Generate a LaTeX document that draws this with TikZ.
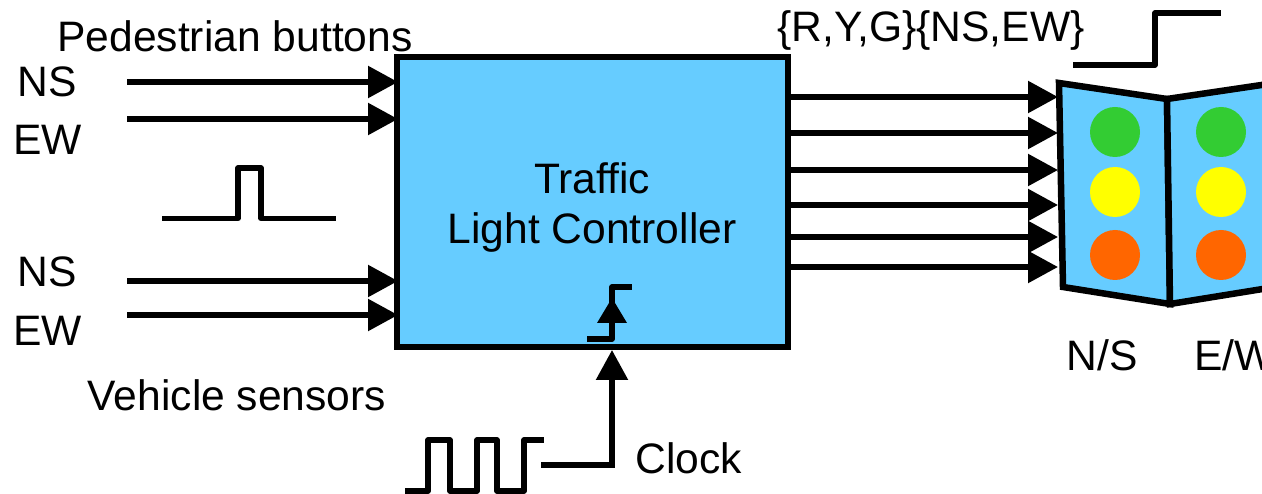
\documentclass[tikz,border=0pt]{standalone}
\usepackage{fontspec}
\setmainfont{Liberation Sans}
\usetikzlibrary{arrows.meta}
\definecolor{panelblue}{HTML}{66CCFF}
\definecolor{lampgreen}{HTML}{33CC33}
\definecolor{lampyellow}{RGB}{255,255,0}
\definecolor{lamporange}{HTML}{FF6600}
\tikzset{
    wire/.style={line width=5.5pt, -{Triangle[length=30pt,width=31pt]}, shorten >=-1pt},
    wave/.style={line width=5.5pt, line join=round},
    panel/.style={draw, line width=6.5pt, fill=panelblue, line join=miter},
    lamp/.style={circle, inner sep=0pt, minimum size=50pt},
    label/.style={font=\fontsize{42.6}{44}\selectfont, inner sep=0pt}
}

\begin{document}
\begin{tikzpicture}[x=1pt, y=-1pt]
    \clip (0,0) rectangle (1262,494);

    % Controller
    \node[draw, rectangle, line width=6pt, fill=panelblue, minimum width=391pt, minimum height=290pt, inner sep=0pt, outer sep=0pt, anchor=north west] (ctrl) at (397,57) {};
    \node[label] (traffic) at (592,178) {Traffic};
    \node[label] (lightctrl) at (592,232) {Light Controller};

    % Signal lamps
    \draw[panel] (1167,99) -- (1059,83) -- (1063,287) -- (1170,304) -- cycle;
    \draw[panel] (1167,99) -- (1275,83) -- (1275,287) -- (1170,304) -- cycle;
    \node[lamp, fill=lampgreen] (greenNS) at (1115,132) {};
    \node[lamp, fill=lampyellow] (yellowNS) at (1115,192) {};
    \node[lamp, fill=lamporange] (redNS) at (1115,255) {};
    \node[lamp, fill=lampgreen] (greenEW) at (1221,132) {};
    \node[lamp, fill=lampyellow] (yellowEW) at (1221,192) {};
    \node[lamp, fill=lamporange] (redEW) at (1221,255) {};

    % Free ends
    \coordinate (pedNS) at (127,82);
    \coordinate (pedEW) at (127,119);
    \coordinate (vehNS) at (127,281);
    \coordinate (vehEW) at (127,315);
    \coordinate (clkin) at (541,465);

    % Inputs
    \draw[wire] (pedNS) -- (pedNS -| ctrl.west);
    \draw[wire] (pedEW) -- (pedEW -| ctrl.west);
    \draw[wire] (vehNS) -- (vehNS -| ctrl.west);
    \draw[wire] (vehEW) -- (vehEW -| ctrl.west);
    \draw[wire] (clkin) -| (612,351);

    % Outputs
    \foreach \y in {97,133,170,205,237,267}
        \draw[wire] (ctrl.east |- 0,\y) -- (1057,\y);

    % Waveforms
    \draw[wave] (162,218.5) -| (238,168) -| (261,218.5) -- (336,218.5);
    \draw[wave] (1073,65) -| (1155,13) -- (1221,13);
    \draw[wave] (405,491) -| (428,440) -| (450,491) -| (477,440) -| (497,491) -| (524,440) -- (544,440);
    \draw[wave] (587,339) -| (612,287) -- (632,287);
    \fill (612,298) -- (627,323) -- (597,323) -- cycle;

    % Labels
    \node[label] (pedlabel) at (235,36) {Pedestrian buttons};
    \node[label] (ns1) at (47,82) {NS};
    \node[label] (ew1) at (47.5,140) {EW};
    \node[label] (ns2) at (47,272) {NS};
    \node[label] (ew2) at (47.5,331) {EW};
    \node[label] (vehlabel) at (237,395) {Vehicle sensors};
    \node[label] (clklabel) at (689,458) {Clock};
    \node[label] (outlabel) at (931,30) {\{R,Y,G\}\{NS,EW\}};
    \node[label] (nslabel) at (1102,355) {N/S};
    \node[label, anchor=west] (ewlabel) at (1194,355) {E/W};
\end{tikzpicture}
\end{document}
